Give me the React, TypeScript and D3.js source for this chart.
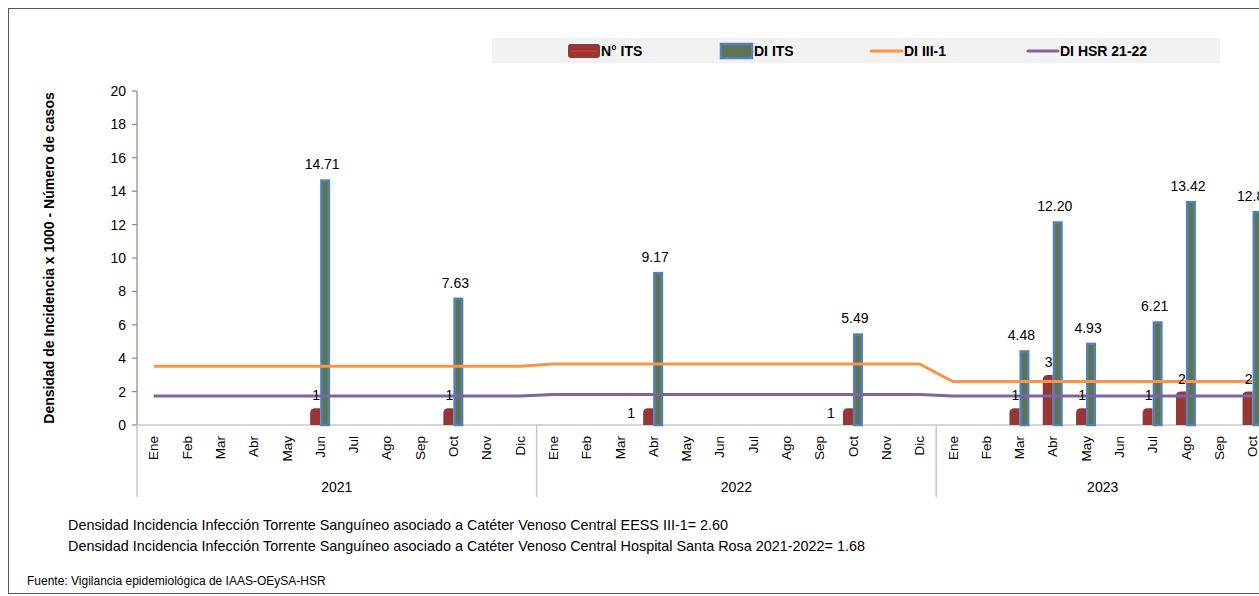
import * as d3 from "d3";

const years = ["2021", "2022", "2023"];
const months = ["Ene", "Feb", "Mar", "Abr", "May", "Jun", "Jul", "Ago", "Sep", "Oct", "Nov", "Dic"];
const monthsPerYear = [12, 12, 10];

// N° ITS (number of cases)
const nITS: (number | null)[] = [
  null, null, null, null, null, 1, null, null, null, 1, null, null,
  null, null, null, 1, null, null, null, null, null, 1, null, null,
  null, null, 1, 3, 1, null, 1, 2, null, 2,
];
// DI ITS (density x 1000)
const diITS: (number | null)[] = [
  null, null, null, null, null, 14.71, null, null, null, 7.63, null, null,
  null, null, null, 9.17, null, null, null, null, null, 5.49, null, null,
  null, null, 4.48, 12.2, 4.93, null, 6.21, 13.42, null, 12.82,
];
// DI III-1 reference
const diIII: number[] = [
  3.52, 3.52, 3.52, 3.52, 3.52, 3.52, 3.52, 3.52, 3.52, 3.52, 3.52, 3.52,
  3.65, 3.65, 3.65, 3.65, 3.65, 3.65, 3.65, 3.65, 3.65, 3.65, 3.65, 3.65,
  2.6, 2.6, 2.6, 2.6, 2.6, 2.6, 2.6, 2.6, 2.6, 2.6,
];
// DI HSR 21-22 reference
const diHSR: number[] = [
  1.73, 1.73, 1.73, 1.73, 1.73, 1.73, 1.73, 1.73, 1.73, 1.73, 1.73, 1.73,
  1.82, 1.82, 1.82, 1.82, 1.82, 1.82, 1.82, 1.82, 1.82, 1.82, 1.82, 1.82,
  1.73, 1.73, 1.73, 1.73, 1.73, 1.73, 1.73, 1.73, 1.73, 1.73,
];
const yTicks = [0, 2, 4, 6, 8, 10, 12, 14, 16, 18, 20];
// N° ITS labels drawn beside the bar instead of above it
const nItsBeside = ["2022-Abr", "2022-Oct"];

const legendItems = ["N° ITS", "DI ITS", "DI III-1", "DI HSR 21-22"];
const footnotes = [
  "Densidad Incidencia Infección Torrente Sanguíneo asociado a Catéter Venoso Central EESS III-1= 2.60",
  "Densidad Incidencia Infección Torrente Sanguíneo asociado a Catéter Venoso Central Hospital Santa Rosa 2021-2022=  1.68",
];
const source = "Fuente: Vigilancia epidemiológica de IAAS-OEySA-HSR";

const categories: { key: string; month: string; year: string }[] = [];
years.forEach((y, i) => {
  months.slice(0, monthsPerYear[i]).forEach((m) => categories.push({ key: `${y}-${m}`, month: m, year: y }));
});

const W = 1259;
const H = 596;
const FONT = "'Liberation Sans', Arial, sans-serif";
const RED = "#953735";
const BLUE = "#4f81bd";
const GREEN = "#5e7350";
const ORANGE = "#f79646";
const PURPLE = "#8064a2";

export default function App() {
  const x = d3
    .scaleBand<string>()
    .domain(categories.map((c) => c.key))
    .range([137, 137 + 34 * 33.3])
    .padding(0);
  const y = d3.scaleLinear().domain([0, 20]).range([425, 91]);
  const cx = (k: string) => (x(k) ?? 0) + x.bandwidth() / 2;
  const barW = 10;

  const lineGen = (vals: number[]) =>
    d3
      .line<number>()
      .x((_, i) => cx(categories[i].key))
      .y((d) => y(d))(vals) ?? "";

  // year group boundaries
  let start = 0;
  const yearGroups = years.map((yr, i) => {
    const first = categories[start].key;
    const last = categories[start + monthsPerYear[i] - 1].key;
    start += monthsPerYear[i];
    const x0 = x(first) ?? 0;
    const x1 = (x(last) ?? 0) + x.bandwidth();
    return { yr, x0, x1 };
  });

  const redPath = (x0: number, y0: number, w: number, h: number) => {
    const r = Math.min(5, h);
    return `M${x0},${y0 + h} L${x0},${y0 + r} Q${x0},${y0} ${x0 + r},${y0} L${x0 + w},${y0} L${x0 + w},${y0 + h} Z`;
  };

  return (
    <div style={{ position: "absolute", left: 0, top: 0 }}>
      <svg width={W} height={H} style={{ display: "block", background: "#fff" }} fontFamily={FONT}>
        <rect x={8.5} y={8.5} width={1300} height={585} fill="#fff" stroke="#595959" strokeWidth={1} />

        {/* legend */}
        <rect x={492} y={38} width={728} height={25} fill="#f2f2f2" />
        <g fontSize={14} fontWeight="bold" fill="#000">
          <rect x={568} y={44} width={32} height={14} rx={3} fill={RED} />
          <line x1={571} x2={597} y1={51} y2={51} stroke="#e03030" strokeWidth={1.5} />
          <text x={601} y={56}>{legendItems[0]}</text>
          <rect x={721} y={44} width={31} height={14} fill={GREEN} stroke={BLUE} strokeWidth={2.5} />
          <text x={754} y={56}>{legendItems[1]}</text>
          <line x1={871} x2={902} y1={51} y2={51} stroke={ORANGE} strokeWidth={3} strokeLinecap="round" />
          <text x={904} y={56}>{legendItems[2]}</text>
          <line x1={1028} x2={1058} y1={51} y2={51} stroke={PURPLE} strokeWidth={3} strokeLinecap="round" />
          <text x={1060} y={56}>{legendItems[3]}</text>
        </g>

        {/* y axis */}
        <line x1={137} x2={137} y1={y(20)} y2={y(0)} stroke="#8a8a7e" strokeWidth={1.2} />
        {yTicks.map((t) => (
          <g key={t}>
            <line x1={132} x2={137} y1={y(t)} y2={y(t)} stroke="#8a8a7e" strokeWidth={1.2} />
            <text x={126} y={y(t)} dy="0.35em" textAnchor="end" fontSize={14}>
              {t}
            </text>
          </g>
        ))}
        <text
          transform={`translate(54,${(y(20) + y(0)) / 2}) rotate(-90)`}
          textAnchor="middle"
          fontSize={14}
          fontWeight="bold"
        >
          Densidad de Incidencia x 1000 - Número de casos
        </text>

        {/* category axis */}
        <line x1={137} x2={W + 20} y1={425} y2={425} stroke="#c8c8c8" strokeWidth={1.5} />
        {yearGroups.map((g) => (
          <g key={g.yr}>
            <line x1={g.x0} x2={g.x0} y1={425} y2={497} stroke="#c8c8c8" strokeWidth={1.5} />
            <text x={(g.x0 + g.x1) / 2} y={492} textAnchor="middle" fontSize={14}>
              {g.yr}
            </text>
          </g>
        ))}
        {categories.map((c) => (
          <text
            key={c.key}
            transform={`translate(${cx(c.key)},436) rotate(-90)`}
            textAnchor="end"
            dy="0.35em"
            fontSize={13.5}
          >
            {c.month}
          </text>
        ))}

        {/* bars */}
        {categories.map((c, i) => {
          const v = nITS[i];
          if (v == null) return null;
          const x0 = cx(c.key) - barW;
          return <path key={c.key} d={redPath(x0, y(v), barW, y(0) - y(v))} fill={RED} />;
        })}
        {categories.map((c, i) => {
          const v = diITS[i];
          if (v == null) return null;
          const x0 = cx(c.key);
          return (
            <rect
              key={c.key}
              x={x0 + 1.25}
              y={y(v) + 1.25}
              width={barW - 2.5}
              height={y(0) - y(v) - 1.25}
              fill={GREEN}
              stroke={BLUE}
              strokeWidth={2.5}
            />
          );
        })}

        {/* lines */}
        <path d={lineGen(diIII)} fill="none" stroke={ORANGE} strokeWidth={3} />
        <path d={lineGen(diHSR)} fill="none" stroke={PURPLE} strokeWidth={3} />

        {/* labels */}
        {categories.map((c, i) => {
          const v = diITS[i];
          if (v == null) return null;
          return (
            <text key={c.key} x={cx(c.key) + 2} y={y(v) - 10} textAnchor="middle" fontSize={14}>
              {v.toFixed(2)}
            </text>
          );
        })}
        {categories.map((c, i) => {
          const v = nITS[i];
          if (v == null) return null;
          const beside = nItsBeside.includes(c.key);
          return (
            <text
              key={c.key}
              x={beside ? cx(c.key) - 22 : cx(c.key) - 4}
              y={beside ? y(0) - 7 : y(v) - 8}
              textAnchor="middle"
              fontSize={14}
            >
              {v}
            </text>
          );
        })}

        {/* footnotes */}
        <g fontSize={14.4} style={{ whiteSpace: "pre" }}>
          <text x={68} y={530}>{footnotes[0]}</text>
          <text x={68} y={551}>{footnotes[1]}</text>
        </g>
        <text x={27} y={585} fontSize={12}>
          {source}
        </text>
      </svg>
    </div>
  );
}
